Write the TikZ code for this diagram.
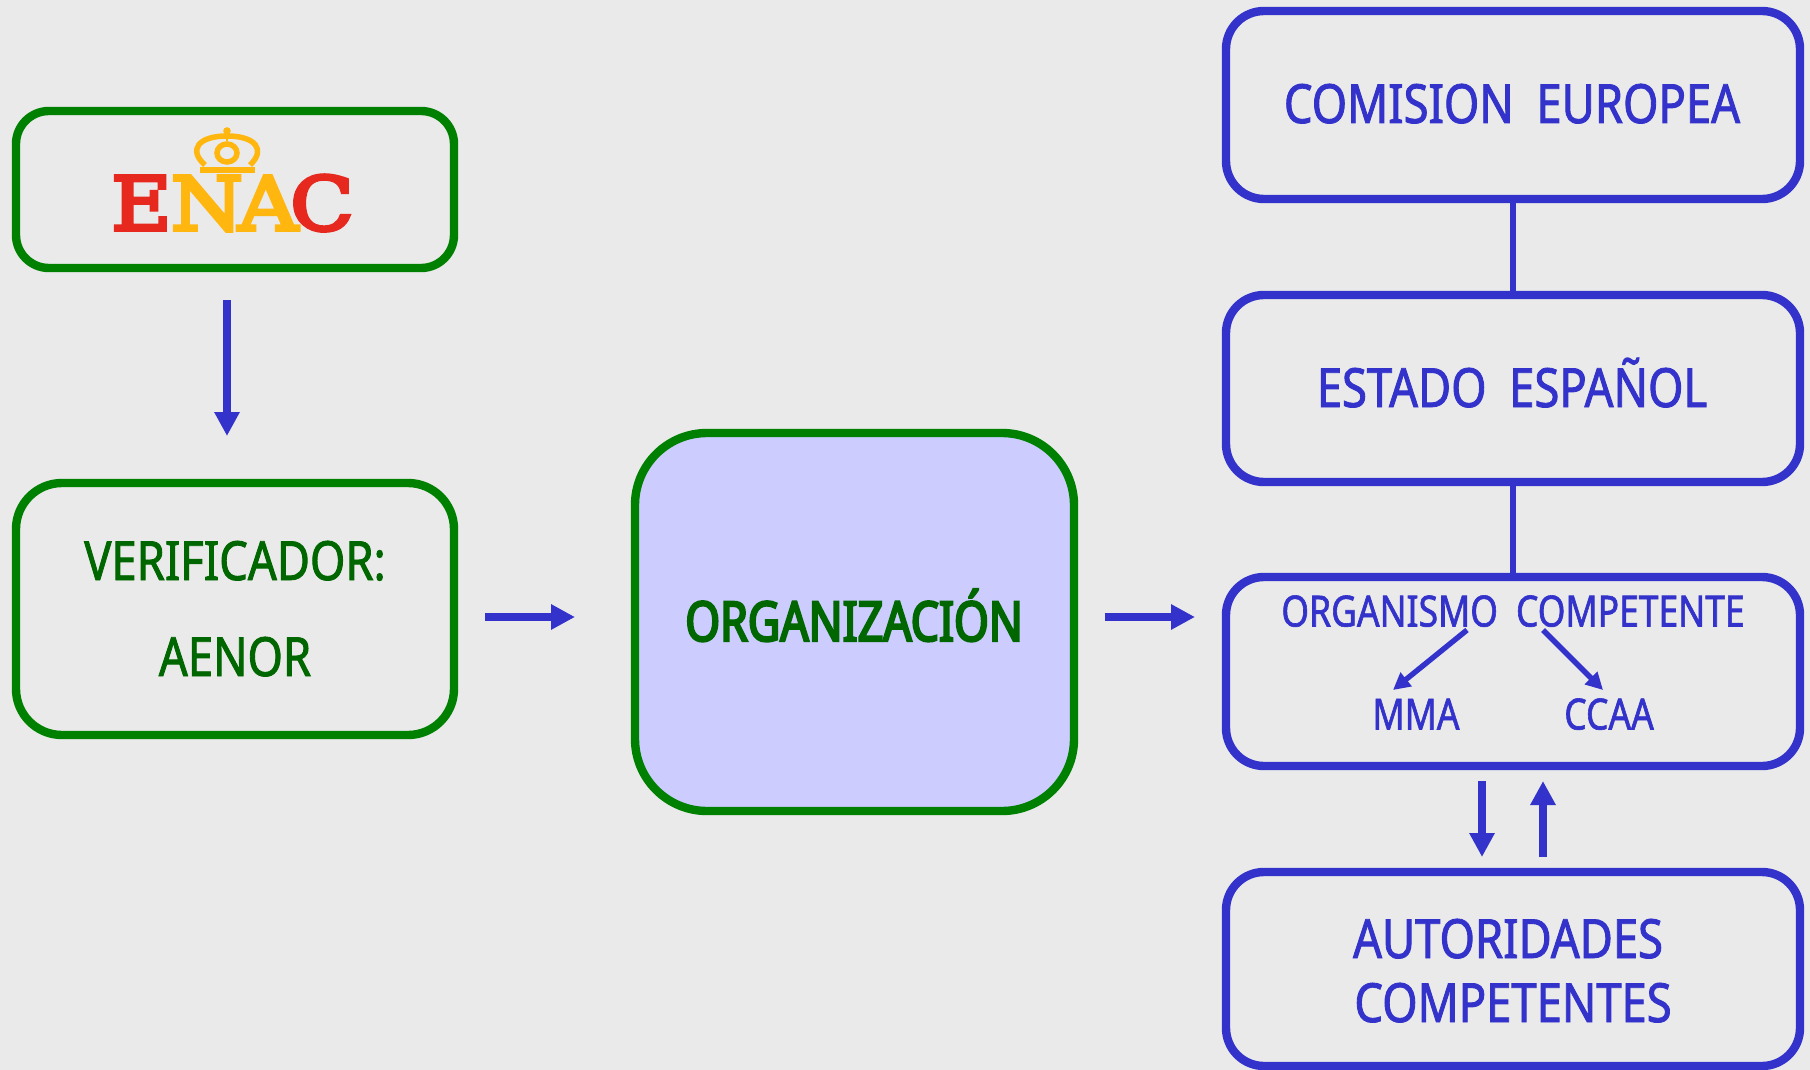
\documentclass[tikz,border=0pt]{standalone}
\usepackage{fontspec}
\usetikzlibrary{arrows.meta}
\newfontfamily\lblfont[FakeStretch=0.84,FakeBold=1.6]{Noto Sans}
\newfontfamily\lblsmall[FakeStretch=0.825,FakeBold=1.4]{Noto Sans}
\newfontfamily\lblheavy[FakeStretch=0.81,FakeBold=4]{Noto Sans}
\newfontfamily\logofont[FakeStretch=1.12,FakeBold=5]{DejaVu Serif}
\definecolor{bgc}{HTML}{EAEAEA}
\definecolor{bluec}{HTML}{3333CC}
\definecolor{greenc}{HTML}{008000}
\definecolor{dgreen}{HTML}{006600}
\definecolor{fillc}{HTML}{CCCCFF}
\definecolor{enacred}{HTML}{E6281E}
\definecolor{enacyel}{HTML}{FFB60F}
\tikzset{
  x=1pt,y=-1pt,
  boxbase/.style={rectangle,draw,line width=8.4pt,inner sep=0pt},
  bluebox/.style={boxbase,draw=bluec,rounded corners=38pt},
  greenbox/.style={boxbase,draw=greenc},
  txt/.style={inner sep=0pt,text height=40pt,text depth=0pt,font=\lblfont\fontsize{54}{54}\selectfont},
  bluetxt/.style={txt,text=bluec},
  greentxt/.style={txt,text=dgreen},
  smalltxt/.style={inner sep=0pt,text height=31pt,text depth=0pt,text=bluec,font=\lblsmall\fontsize{43}{43}\selectfont},
  bigarrow/.style={draw=bluec,line width=7.8pt,-{Triangle[length=24pt,width=24pt]}},
  smallarrow/.style={draw=bluec,line width=5.4pt,-{Triangle[length=17pt,width=17pt]}},
  link/.style={draw=bluec,line width=6pt},
  logo/.style={inner sep=0pt,text height=53pt,text depth=0pt,font=\logofont\fontsize{74}{74}\selectfont},
  crown/.style={draw=enacyel,line width=5.5pt},
}
\begin{document}
\begin{tikzpicture}
\useasboundingbox (0,0) rectangle (1810,1070);
\fill[bgc] (0,0) rectangle (1810,1070);

% green boxes
\node[greenbox,rounded corners=33pt,minimum width=438pt,minimum height=157pt] (enac) at (235,189.5) {};
\node[greenbox,rounded corners=46pt,minimum width=438pt,minimum height=252pt] (verif) at (235,609) {};
\node[greenbox,fill=fillc,rounded corners=72pt,minimum width=439pt,minimum height=378pt] (org) at (854.5,622) {};

% blue boxes
\node[bluebox,minimum width=574pt,minimum height=188pt] (comision) at (1513,105) {};
\node[bluebox,minimum width=574pt,minimum height=187pt] (estado) at (1513,388.5) {};
\node[bluebox,minimum width=574pt,minimum height=189pt] (organismo) at (1513,671.5) {};
\node[bluebox,minimum width=574pt,minimum height=194pt] (autoridades) at (1513,969) {};

% links
\draw[link] (comision.south) -- (estado.north);
\draw[link] (estado.south) -- (organismo.north);

% labels
\node[greentxt] (lverif) at (235,560) {VERIFICADOR:};
\node[greentxt] (laenor) at (235,656) {AENOR};
\node[txt,text=dgreen,font=\lblheavy\fontsize{55}{55}\selectfont] (lorg) at (854,621) {ORGANIZACIÓN};
\node[bluetxt] (lcom) at (1512,103) {COMISION\hspace{0.42em}EUROPEA};
\node[bluetxt] (lest) at (1512,387) {ESTADO\hspace{0.42em}ESPAÑOL};
\node[smalltxt] (lorgc) at (1513,611) {ORGANISMO\hspace{0.42em}COMPETENTE};
\node[smalltxt] (lmma) at (1416,714) {MMA};
\node[smalltxt] (lccaa) at (1609,714) {CCAA};
\node[bluetxt] (laut) at (1508,938) {AUTORIDADES};
\node[bluetxt] (lcomp) at (1513,1002) {COMPETENTES};

% arrows: free ends
\coordinate (a1s) at (227,300); \coordinate (a1e) at (227,436);
\coordinate (a2s) at (485,617); \coordinate (a2e) at (575,617);
\coordinate (a3s) at (1104.5,617); \coordinate (a3e) at (1195,617);
\coordinate (a4s) at (1482,781); \coordinate (a4e) at (1482,857);
\coordinate (a5s) at (1543,857); \coordinate (a5e) at (1543,781);
\coordinate (a6s) at (1467,630); \coordinate (a6e) at (1393,690);
\coordinate (a7s) at (1543,630); \coordinate (a7e) at (1603,690);
\draw[bigarrow] (a1s) -- (a1e);
\draw[bigarrow] (a2s) -- (a2e);
\draw[bigarrow] (a3s) -- (a3e);
\draw[bigarrow] (a4s) -- (a4e);
\draw[bigarrow] (a5s) -- (a5e);
\draw[smallarrow] (a6s) -- (a6e);
\draw[smallarrow] (a7s) -- (a7e);

% ENAC logo
\node[logo,text=enacred] (le) at (141.5,203.5) {E};
\node[logo,text=enacyel] (ln) at (207,203.5) {N};
\node[logo,text=enacyel] (la) at (268,203.5) {A};
\node[logo,text=enacred] (lc) at (322,203.5) {C};
\fill[enacyel] (200,167) rectangle (255,173);
\draw[crown] (205,165) .. controls (188,150) and (198,136) .. (227,136)
             .. controls (256,136) and (266,150) .. (250,165);
\draw[crown] (227,153) ellipse (10 and 9);
\fill[enacyel] (227,131) circle (3.8);
\fill[enacyel] (226,134) rectangle (228,141);
\end{tikzpicture}
\end{document}
